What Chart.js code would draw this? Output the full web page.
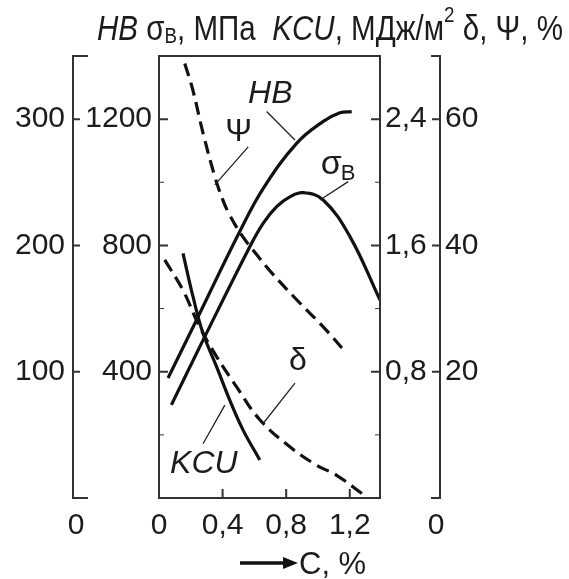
<!DOCTYPE html>
<html><head><meta charset="utf-8">
<script src="https://cdn.jsdelivr.net/npm/chart.js@4.4.1/dist/chart.umd.min.js"></script>
<style>html,body{margin:0;padding:0;background:#fff}#w{width:569px;height:579px;position:relative}</style>
</head><body><div id="w"><canvas id="c"></canvas></div>
<script>
// ---- data (x = carbon content C, %) ----
const cHB    = [0.057,0.236,0.508,0.655,0.867,1.031,1.138,1.212];
const hbVals = [95,141,211,245,281,298,305,306];
const cSig   = [0.078,0.277,0.571,0.655,0.74,0.823,0.907,1.033,1.201,1.39];
const sigVals= [295,500,796,870,923,954,967,944,828,627];
const cPsi   = [0.162,0.213,0.277,0.35,0.40,0.445,0.529,0.613,0.697,0.866,1.033,1.18];
const psiVals= [68.8,64.6,57.8,51.0,47.3,44.8,41.3,38.6,36.0,31.4,27.1,22.9];
const cDel   = [0.036,0.151,0.256,0.362,0.488,0.634,0.823,0.991,1.117,1.277];
const delVals= [37.7,32.9,27.1,22.4,17.6,12.4,8.1,5.2,3.6,0.7];
const cKcu   = [0.151,0.214,0.277,0.362,0.445,0.529,0.634];
const kcuVals= [1.55,1.275,1.043,0.832,0.62,0.43,0.241];

const xTicks   = [0,0.4,0.8,1.2];
const hbTicks  = [100,200,300];
const sigTicks = [400,800,1200];
const kcuTicks = [0.8,1.6,2.4];
const dpTicks  = [20,40,60];

// curve labels: [text, C, HB-scale value, italic]
const curveLabels = [['HB',0.70,320,true],['Ψ',0.50,290,false],['δ',0.874,108,false],['KCU',0.282,27,true]];
// leader lines: [C1, HB1, C2, HB2]
const leaders = [[0.677,306,0.855,283.5],[0.561,278,0.351,248],[1.19,250.5,1.012,236],[0.855,91,0.655,59],[0.277,43,0.414,73.5]];

const pts = (xs,ys)=>xs.map((x,i)=>({x,y:ys[i]}));
const fmt = v => String(v).replace('.',',');
const FONT = '"Liberation Sans", Arial, sans-serif';
const tickFont = {family:FONT,size:30};
const tickCol = '#1c1c1c';

const frame = {
  id:'frame',
  afterDraw(chart){
    const {ctx, chartArea:a, scales:s} = chart;
    ctx.save();
    ctx.strokeStyle='#333'; ctx.lineWidth=2; ctx.lineCap='butt';
    ctx.strokeRect(a.left,a.top,a.right-a.left,a.bottom-a.top);
    const xh = s.yHB.right, xd = s.yDp.left;
    ctx.beginPath();
    ctx.moveTo(xh+15,a.top); ctx.lineTo(xh,a.top); ctx.lineTo(xh,a.bottom); ctx.lineTo(xh+15,a.bottom);
    ctx.moveTo(xd-9,a.top); ctx.lineTo(xd,a.top); ctx.lineTo(xd,a.bottom); ctx.lineTo(xd-9,a.bottom);
    ctx.stroke();
    ctx.beginPath();
    hbTicks.forEach(v=>{const y=s.yHB.getPixelForValue(v);ctx.moveTo(xh,y);ctx.lineTo(xh+7,y);});
    dpTicks.forEach(v=>{const y=s.yDp.getPixelForValue(v);ctx.moveTo(xd,y);ctx.lineTo(xd-8,y);});
    sigTicks.forEach(v=>{const y=s.ySig.getPixelForValue(v);ctx.moveTo(a.left,y);ctx.lineTo(a.left+9,y);});
    kcuTicks.forEach(v=>{const y=s.yKcu.getPixelForValue(v);ctx.moveTo(a.right,y);ctx.lineTo(a.right-9,y);});
    xTicks.slice(1).forEach(v=>{const x=s.x.getPixelForValue(v);ctx.moveTo(x,a.bottom);ctx.lineTo(x,a.bottom-9);});
    ctx.stroke();
    ctx.lineWidth=1;
    ctx.beginPath();
    [200,600,1000].forEach(v=>{const y=s.ySig.getPixelForValue(v);ctx.moveTo(a.left,y);ctx.lineTo(a.left+5,y);});
    [0.4,1.2,2.0].forEach(v=>{const y=s.yKcu.getPixelForValue(v);ctx.moveTo(a.right,y);ctx.lineTo(a.right-5,y);});
    ctx.stroke();
    // zero labels of outer axes
    ctx.fillStyle=tickCol; ctx.font='30px '+FONT; ctx.textAlign='center'; ctx.textBaseline='middle';
    ctx.fillText('0',xh+3,526); ctx.fillText('0',xd-4,526);
    // leaders
    ctx.strokeStyle='#222'; ctx.lineWidth=1.3;
    ctx.beginPath();
    leaders.forEach(l=>{ctx.moveTo(s.x.getPixelForValue(l[0]),s.yHB.getPixelForValue(l[1]));ctx.lineTo(s.x.getPixelForValue(l[2]),s.yHB.getPixelForValue(l[3]));});
    ctx.stroke();
    // curve labels
    ctx.fillStyle='#1c1c1c';
    curveLabels.forEach(l=>{ctx.font=(l[3]?'italic ':'')+'32px '+FONT; ctx.fillText(l[0],s.x.getPixelForValue(l[1]),s.yHB.getPixelForValue(l[2]));});
    // sigma_B label
    const sx=s.x.getPixelForValue(1.15), sy=s.yHB.getPixelForValue(264);
    ctx.textAlign='left'; ctx.textBaseline='alphabetic';
    ctx.font='34px '+FONT; ctx.fillText('σ',sx-21,sy+9);
    ctx.font='22px '+FONT; ctx.fillText('B',sx-1,sy+15);
    // title
    const segs=[['HB','italic ',33,0],[' σ','',33,0],['B','',21,3],[', МПа  ','',33,0],['KCU','italic ',33,0],[', МДж/м','',33,0],['2','',21,-17],[' δ, Ψ, %','',33,0]];
    let tw=0; segs.forEach(g=>{ctx.font=g[1]+g[2]+'px '+FONT; tw+=ctx.measureText(g[0]).width;});
    const sc=466/tw;
    ctx.save(); ctx.translate(97,40); ctx.scale(sc,1.05);
    let px=0; segs.forEach(g=>{ctx.font=g[1]+g[2]+'px '+FONT; ctx.fillText(g[0],px,g[3]); px+=ctx.measureText(g[0]).width;});
    ctx.restore();
    // x axis title with arrow
    ctx.strokeStyle='#111'; ctx.lineWidth=3.5;
    ctx.beginPath(); ctx.moveTo(240,563); ctx.lineTo(287,563); ctx.stroke();
    ctx.fillStyle='#111';
    ctx.beginPath(); ctx.moveTo(298,563); ctx.lineTo(283,557); ctx.lineTo(283,569); ctx.closePath(); ctx.fill();
    ctx.fillStyle=tickCol; ctx.font='31px '+FONT; ctx.fillText('C, %',299,574);
    ctx.restore();
  }
};

const yAxis = (pos,w,min,max,ticks,pad,weight)=>({
  type:'linear', position:pos, min, max, weight,
  grid:{display:false,drawTicks:false}, border:{display:false},
  afterBuildTicks:s=>{s.ticks=ticks.map(v=>({value:v}));},
  afterFit:s=>{s.width=w;},
  ticks:{font:tickFont,color:tickCol,padding:pad,callback:fmt}
});

const line = (data,axis,dash)=>({data,yAxisID:axis,borderColor:'#111',borderWidth:3.2,pointRadius:0,tension:0.4,fill:false,borderDash:dash||[],borderCapStyle:'butt'});

new Chart(document.getElementById('c'),{
  type:'line',
  data:{datasets:[
    line(pts(cHB,hbVals),'yHB'),
    line(pts(cSig,sigVals),'ySig'),
    line(pts(cKcu,kcuVals),'yKcu'),
    line(pts(cPsi,psiVals),'yDp',[13,7]),
    line(pts(cDel,delVals),'yDp',[13,7])
  ]},
  options:{
    responsive:true, maintainAspectRatio:false, animation:false, devicePixelRatio:1,
    layout:{padding:{top:56,left:0,right:0,bottom:0}},
    plugins:{legend:{display:false},tooltip:{enabled:false},title:{display:false}},
    scales:{
      x:{type:'linear',position:'bottom',min:0,max:1.39,
        grid:{display:false,drawTicks:false},border:{display:false},
        afterBuildTicks:s=>{s.ticks=xTicks.map(v=>({value:v}));},
        afterFit:s=>{s.height=81;},
        ticks:{font:tickFont,color:tickCol,padding:10,callback:fmt,autoSkip:false,maxRotation:0}},
      yHB:yAxis('left',73,0,350,hbTicks,8,2),
      ySig:yAxis('left',86,0,1400,sigTicks,7,1),
      yKcu:yAxis('right',60,0,2.8,kcuTicks,5,1),
      yDp:yAxis('right',129,0,70,dpTicks,5,2)
    }
  },
  plugins:[frame]
});
</script></body></html>
